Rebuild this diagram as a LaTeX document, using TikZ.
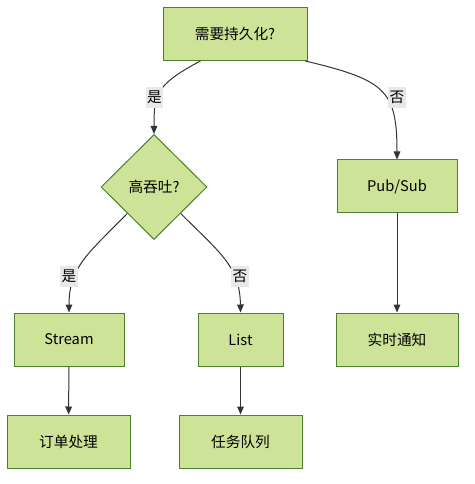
\documentclass[tikz,border=0pt]{standalone}
\usepackage{fontspec}
\setmainfont{Noto Sans CJK SC}
\usetikzlibrary{shapes.geometric,arrows.meta}
\definecolor{boxfill}{HTML}{CDE498}
\definecolor{boxline}{HTML}{4F8032}
\definecolor{edgeline}{HTML}{333333}
\definecolor{lblfill}{HTML}{E8E8E8}

\begin{document}
\begin{tikzpicture}[x=0.75pt,y=-0.75pt,
    box/.style={draw=boxline,fill=boxfill,line width=0.75pt,inner sep=0pt,minimum height=39.75pt,font=\fontsize{11}{13}\selectfont},
    choice/.style={diamond,draw=boxline,fill=boxfill,line width=0.75pt,inner sep=0pt,minimum width=79.5pt,minimum height=78.75pt,font=\fontsize{11}{13}\selectfont},
    lbl/.style={fill=lblfill,inner sep=1pt,minimum width=11.25pt,minimum height=15.75pt,font=\fontsize{11}{13}\selectfont},
    flow/.style={draw=edgeline,line width=0.75pt,-{Triangle[length=6pt,width=5pt]}}]
    \useasboundingbox (0,0) rectangle (474,484);
    \node[box,minimum width=108pt] (persist) at (235,34) {需要持久化?};
    \node[choice] (tput) at (154,187) {高吞吐?};
    \node[box,minimum width=90pt] (pubsub) at (397,186.5) {Pub/Sub};
    \node[box,minimum width=82.5pt] (stream) at (69,339.5) {Stream};
    \node[box,minimum width=63.75pt] (list) at (240.5,339.5) {List};
    \node[box,minimum width=91.5pt] (notify) at (397,339.5) {实时通知};
    \node[box,minimum width=92.25pt] (order) at (68.5,441.5) {订单处理};
    \node[box,minimum width=92.25pt] (queue) at (240.5,441.5) {任务队列};
    \draw[flow] (persist.218) .. controls (155,85) and (154,95) .. (tput.north);
    \draw[flow] (persist.339) .. controls (385,80) and (397,90) .. (pubsub.north);
    \draw[flow] (tput.south west) .. controls (90,252) and (69,266) .. (stream.north);
    \draw[flow] (tput.south east) .. controls (219,252) and (240,266) .. (list.north);
    \draw[flow] (stream) -- (order);
    \draw[flow] (list) -- (queue);
    \draw[flow] (pubsub) -- (notify);
    \node[lbl] (yes1) at (154.5,97.5) {是};
    \node[lbl] (no1) at (397,97.5) {否};
    \node[lbl] (yes2) at (69,276) {是};
    \node[lbl] (no2) at (240,276) {否};
\end{tikzpicture}
\end{document}
